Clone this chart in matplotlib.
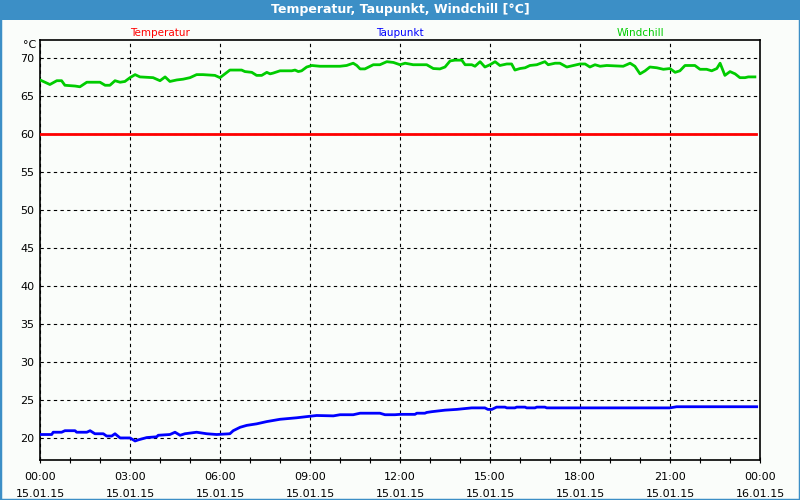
import numpy as np
import matplotlib.pyplot as plt
from matplotlib.patches import Rectangle

# Zeitachse in Stunden ab 15.01.15 00:00
wc_hours = [0.0, 0.33, 0.56, 0.72, 0.83, 1.17, 1.33, 1.56, 2.0, 2.17,
            2.33, 2.5, 2.67, 2.83, 3.0, 3.17, 3.33, 3.77, 4.0, 4.17,
            4.33, 4.56, 4.77, 5.0, 5.22, 5.43, 5.83, 6.0, 6.33, 6.72,
            6.83, 7.06, 7.22, 7.39, 7.56, 7.67, 7.77, 8.0, 8.39, 8.5,
            8.61, 8.72, 8.89, 9.06, 9.33, 10.0, 10.22, 10.44, 10.56, 10.67,
            10.83, 11.11, 11.33, 11.56, 11.78, 12.0, 12.17, 12.44, 12.89, 13.11,
            13.33, 13.5, 13.67, 13.83, 14.06, 14.17, 14.39, 14.5, 14.67, 14.83,
            15.0, 15.17, 15.33, 15.56, 15.72, 15.83, 16.0, 16.17, 16.33, 16.56,
            16.83, 16.94, 17.17, 17.33, 17.56, 17.78, 18.0, 18.17, 18.33, 18.5,
            18.67, 18.89, 19.44, 19.67, 19.83, 20.0, 20.17, 20.33, 20.56, 20.78,
            21.0, 21.17, 21.33, 21.5, 21.83, 22.0, 22.22, 22.39, 22.56, 22.67,
            22.83, 23.0, 23.17, 23.33, 23.5, 23.61, 23.83]
windchill = [67.1, 66.5, 67.0, 67.0, 66.4, 66.3, 66.2, 66.8, 66.8, 66.4,
             66.4, 67.0, 66.8, 66.9, 67.4, 67.8, 67.5, 67.4, 67.0, 67.5,
             66.9, 67.1, 67.2, 67.4, 67.8, 67.8, 67.7, 67.4, 68.4, 68.4,
             68.2, 68.1, 67.7, 67.7, 68.1, 67.9, 68.0, 68.3, 68.3, 68.4,
             68.2, 68.3, 68.8, 69.0, 68.9, 68.9, 69.0, 69.3, 69.0, 68.55,
             68.55, 69.1, 69.1, 69.5, 69.4, 69.1, 69.3, 69.1, 69.1, 68.6,
             68.55, 68.8, 69.6, 69.7, 69.7, 69.1, 69.1, 68.9, 69.5, 68.8,
             69.1, 69.5, 69.0, 69.2, 69.2, 68.4, 68.6, 68.7, 69.0, 69.1,
             69.5, 69.1, 69.3, 69.3, 68.8, 69.0, 69.2, 69.2, 68.8, 69.1,
             68.9, 69.0, 68.9, 69.3, 68.9, 67.9, 68.3, 68.8, 68.7, 68.5,
             68.6, 68.1, 68.3, 69.0, 69.0, 68.5, 68.5, 68.3, 68.6, 69.3,
             67.7, 68.2, 67.9, 67.4, 67.4, 67.5, 67.5]

tp_hours = [0.0, 0.39, 0.44, 0.72, 0.83, 1.17, 1.22, 1.56, 1.67, 1.83,
            2.11, 2.22, 2.39, 2.5, 2.67, 3.0, 3.17, 3.28, 3.56, 3.89,
            3.94, 4.33, 4.5, 4.67, 4.83, 5.22, 5.56, 5.89, 6.33, 6.44,
            6.67, 6.89, 7.22, 7.56, 8.0, 8.56, 9.0, 9.22, 9.78, 10.0,
            10.44, 10.67, 11.33, 11.5, 11.83, 12.0, 12.5, 12.56, 12.83, 12.89,
            13.06, 13.5, 13.89, 14.39, 14.83, 14.93, 15.06, 15.22, 15.5, 15.56,
            15.83, 15.89, 16.17, 16.22, 16.5, 16.56, 16.83, 16.89, 21.0, 21.22,
            23.89]
taupunkt = [20.5, 20.5, 20.8, 20.8, 21.0, 21.0, 20.8, 20.8, 21.0, 20.6,
            20.6, 20.3, 20.3, 20.6, 20.05, 20.05, 19.65, 19.8, 20.1, 20.2,
            20.4, 20.5, 20.8, 20.4, 20.6, 20.8, 20.6, 20.5, 20.6, 21.0,
            21.45, 21.7, 21.9, 22.2, 22.5, 22.7, 22.9, 23.0, 22.95, 23.1,
            23.1, 23.3, 23.3, 23.1, 23.1, 23.15, 23.15, 23.3, 23.3, 23.4,
            23.5, 23.7, 23.8, 24.0, 24.0, 23.8, 23.8, 24.1, 24.1, 24.0,
            24.0, 24.1, 24.1, 24.0, 24.0, 24.1, 24.1, 24.0, 24.0, 24.15,
            24.15]

temp_hours = [0.0, 23.85]
temperatur = [60.0, 60.0]

xtick_labels = ["00:00\n15.01.15", "03:00\n15.01.15", "06:00\n15.01.15", "09:00\n15.01.15",
                "12:00\n15.01.15", "15:00\n15.01.15", "18:00\n15.01.15", "21:00\n15.01.15",
                "00:00\n16.01.15"]
yticks = [20, 25, 30, 35, 40, 45, 50, 55, 60, 65, 70]

bg = '#fafdfa'
frame_blue = '#3c8fc6'

fig = plt.figure(figsize=(8, 5), dpi=100, facecolor=bg)

# Fensterrahmen und Titelleiste
fig.patches.append(Rectangle((0, 0), 1, 1, transform=fig.transFigure, fill=False,
                             edgecolor=frame_blue, linewidth=2.5, zorder=0))
fig.patches.append(Rectangle((0, 0.96), 1, 0.04, transform=fig.transFigure,
                             facecolor=frame_blue, edgecolor='none', zorder=1))
fig.text(0.5, 0.98, "Temperatur, Taupunkt, Windchill [°C]", ha='center', va='center',
         color='white', fontsize=9, fontweight='bold')

ax = fig.add_axes([0.05, 0.08, 0.9, 0.84])
ax.set_facecolor(bg)

lw = 2.0
ax.plot(temp_hours, temperatur, color='#ff0000', lw=lw, zorder=3)
ax.plot(tp_hours, taupunkt, color='#0000ff', lw=lw, zorder=3)
ax.plot(wc_hours, windchill, color='#00cc00', lw=lw, zorder=3)

ax.set_xlim(0, 24)
ax.set_ylim(17.15, 72.35)
ax.set_xticks(np.arange(0, 25, 3))
ax.set_xticks(np.arange(0, 25, 1), minor=True)
ax.set_xticklabels(xtick_labels, fontsize=8, linespacing=1.9)
ax.set_yticks(yticks)
ax.set_yticklabels([str(v) for v in yticks], fontsize=8)
ax.tick_params(axis='x', which='both', direction='inout', length=5, width=0.8, pad=6)
ax.tick_params(axis='y', length=0, pad=4)

ax.grid(True, which='major', color='black', linestyle=(0, (3, 3)), linewidth=0.8)
for s in ax.spines.values():
    s.set_color('black')
    s.set_linewidth(1.2)

ax.text(-0.12, 71.7, "°C", ha='right', va='center', fontsize=8, clip_on=False)

fig.text(0.2, 0.935, "Temperatur", color='#ff0000', ha='center', va='center', fontsize=7.5)
fig.text(0.5, 0.935, "Taupunkt", color='#0000ff', ha='center', va='center', fontsize=7.5)
fig.text(0.8, 0.935, "Windchill", color='#00cc00', ha='center', va='center', fontsize=7.5)

fig.savefig("out.png", dpi=100, facecolor=bg)
